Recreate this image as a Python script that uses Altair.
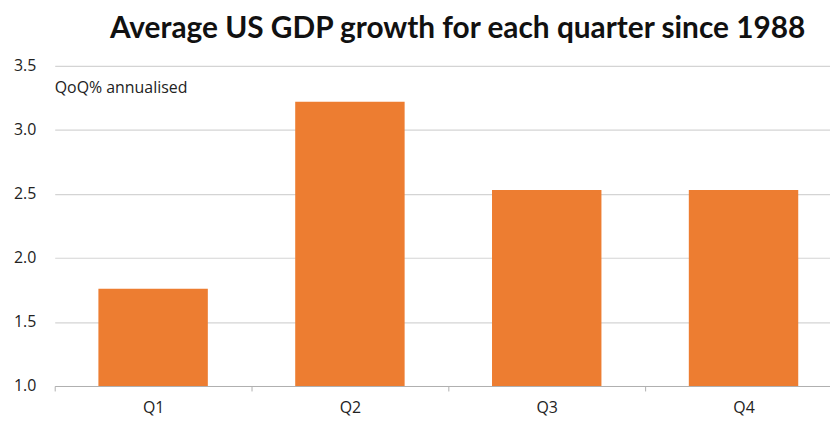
import altair as alt
import pandas as pd

quarters = ["Q1", "Q2", "Q3", "Q4"]
growth = [1.76, 3.22, 2.53, 2.53]
y_ticks = [1.0, 1.5, 2.0, 2.5, 3.0, 3.5]
title_text = "Average US GDP growth for each quarter since 1988"
unit_text = "QoQ% annualised"

df = pd.DataFrame({"quarter": quarters, "growth": growth})

FONT = "Open Sans"
TITLE_FONT = "Lato"

bars = alt.Chart(df).mark_bar(color="#ED7D31", clip=True,
                              width=alt.RelativeBandSize(0.556)).encode(
    x=alt.X("quarter:N", sort=quarters, title=None,
            scale=alt.Scale(paddingInner=0, paddingOuter=0, range=[0, 792]),
            axis=alt.Axis(labelAngle=0, labelFontSize=16, labelColor="#222222",
                          labelFont=FONT, labelPadding=9,
                          domainColor="#b0b0b0", tickColor="#b0b0b0",
                          tickBand="extent", tickSize=5, grid=False)),
    y=alt.Y("growth:Q", title=None,
            scale=alt.Scale(domain=[1.0, 3.5], zero=False, nice=False),
            axis=alt.Axis(values=y_ticks, format=".1f", labelFontSize=16,
                          labelColor="#222222", labelFont=FONT, labelPadding=19,
                          ticks=False, domain=False, gridColor="#d4d4d4",
                          gridWidth=1.2)),
)

note = alt.Chart(pd.DataFrame({"t": [unit_text]})).mark_text(
    align="left", baseline="alphabetic", fontSize=16, font=FONT, color="#222222"
).encode(x=alt.value(0), y=alt.value(27), text="t:N")

chart = (bars + note).properties(
    width=780, height=322,
    autosize=alt.AutoSizeParams(type="none"),
    padding={"left": 47, "top": 57, "right": 0, "bottom": 45},
    title=alt.TitleParams(title_text, font=TITLE_FONT, fontSize=30, fontWeight="bold",
                          color="#111111", anchor="start", dx=97, offset=14),
).configure_view(stroke=None)

chart.save("out.html", embed_options={"renderer": "svg", "actions": False})
